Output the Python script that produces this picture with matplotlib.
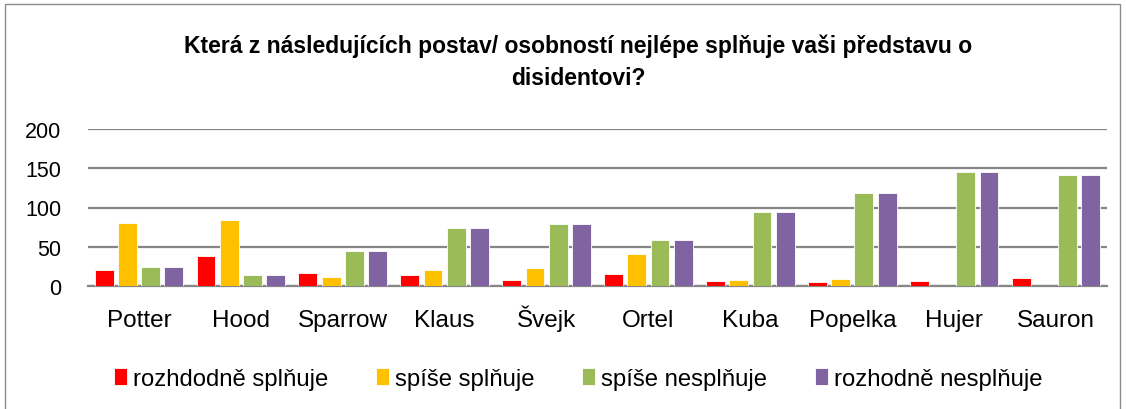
import matplotlib
matplotlib.use("Agg")
import matplotlib.pyplot as plt
import numpy as np
from matplotlib.patches import Rectangle

categories = ["Potter", "Hood", "Sparrow", "Klaus", "Švejk", "Ortel", "Kuba", "Popelka", "Hujer", "Sauron"]
rozhodne_splnuje = [20, 38, 17, 14, 8, 15, 6, 5, 6, 10]
spise_splnuje = [80, 84, 12, 20, 23, 41, 8, 9, 0, 0]
spise_nesplnuje = [24, 14, 44, 74, 79, 59, 94, 118, 145, 141]
rozhodne_nesplnuje = [24, 14, 44, 74, 79, 59, 94, 118, 145, 141]
series_names = ["rozhdodně splňuje", "spíše splňuje", "spíše nesplňuje", "rozhodně nesplňuje"]
title = "Která z následujících postav/ osobností nejlépe splňuje vaši představu o\ndisidentovi?"
yticks = [0, 50, 100, 150, 200]

colors = ["#FF0000", "#FFC000", "#9BBB59", "#8064A2"]
plt.rcParams['font.family'] = ['Liberation Sans', 'DejaVu Sans']

W, H = 1126, 410
fig = plt.figure(figsize=(W / 100, H / 100), dpi=100)
fig.patches.append(Rectangle((5 / W, -0.01), (1120 - 5) / W, (H - 5) / H + 0.01,
                             transform=fig.transFigure, fill=False,
                             edgecolor="#8C8C8C", linewidth=1.0))

left, right, top, bottom = 88, 1107, 130, 287
ax = fig.add_axes([left / W, 1 - bottom / H, (right - left) / W, (bottom - top) / H])

data = [rozhodne_splnuje, spise_splnuje, spise_nesplnuje, rozhodne_nesplnuje]
x = np.arange(len(categories))
pitch = 0.228
bw = 0.185
for i, (vals, c, name) in enumerate(zip(data, colors, series_names)):
    ax.bar(x + (i - 1.5) * pitch, vals, bw, color=c, label=name, zorder=3,
           edgecolor="white", linewidth=0.6)

ax.set_xlim(-0.5, len(categories) - 0.5)
ax.set_ylim(0, 200)
ax.set_yticks(yticks)
ax.set_yticklabels([str(t) for t in yticks], fontsize=15.5)
ax.set_xticks(x)
ax.set_xticklabels(categories, fontsize=17.5, va="baseline")
ax.tick_params(axis='both', length=0)
ax.tick_params(axis='x', pad=29)
ax.tick_params(axis='y', pad=19)
ax.grid(axis='y', color="#868686", linewidth=1.6, zorder=0)
ax.set_axisbelow(True)
for s in ["top", "right", "left"]:
    ax.spines[s].set_visible(False)
ax.spines["bottom"].set_color("#868686")
ax.spines["bottom"].set_linewidth(1.6)

fig.text(0.5135, 1 - 62 / H, title, ha="center", va="center", fontsize=16.5,
         fontweight="bold", linespacing=1.5)

handles, labels = ax.get_legend_handles_labels()
fig.legend(handles, labels, loc="center", bbox_to_anchor=(0.5135, 1 - 380 / H),
           ncol=4, frameon=False, fontsize=17.2, handlelength=0.55, handleheight=0.7,
           handletextpad=0.25, columnspacing=2.0)

fig.savefig("out.png", dpi=100)
